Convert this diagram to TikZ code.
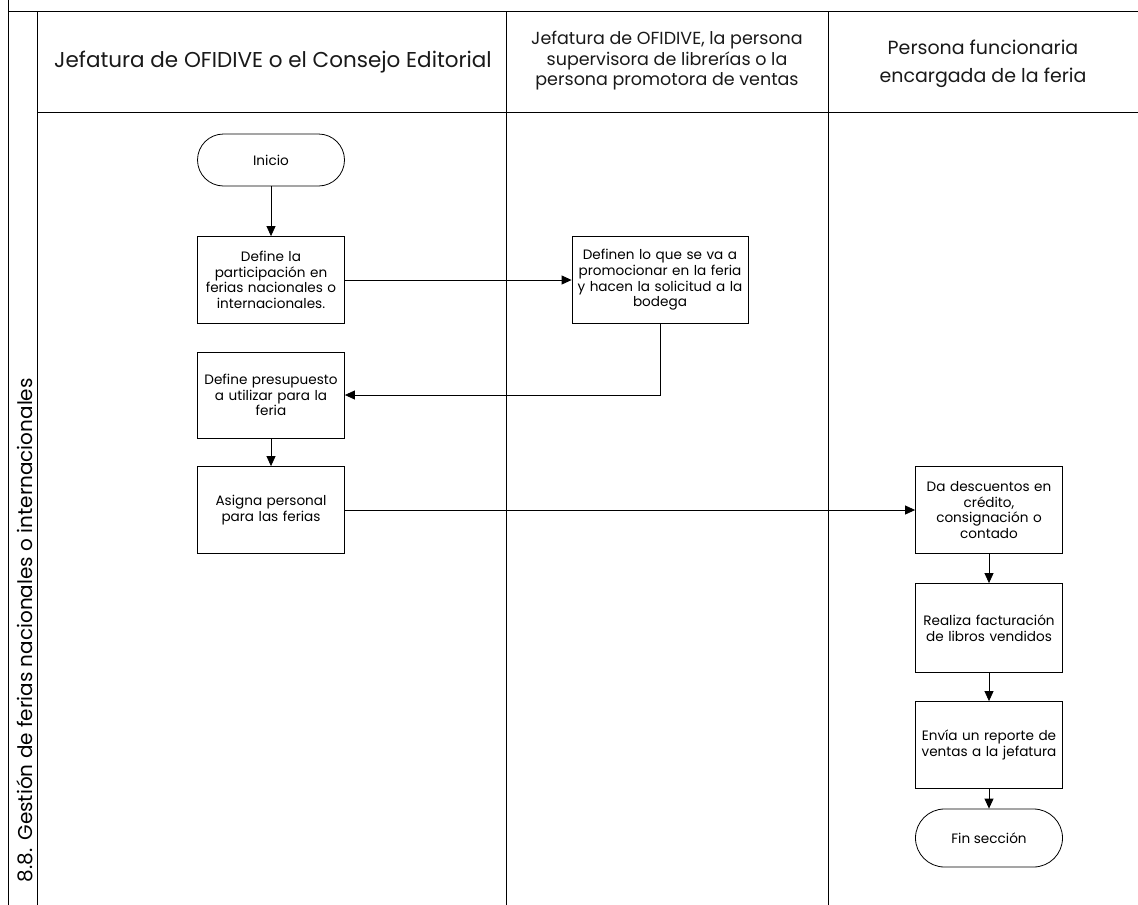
\documentclass[tikz,border=0pt]{standalone}
\usepackage{fontspec}
\setmainfont{Poppins}
\usetikzlibrary{arrows.meta}
\tikzset{
  lane/.style={line width=1pt, draw=black},
  proc/.style={draw, line width=0.8pt, minimum width=147pt, minimum height=87pt,
    text width=145pt, align=center, inner sep=0pt, font=\fontsize{13.6}{15.6}\selectfont},
  term/.style={draw, line width=0.8pt, minimum width=147pt, rounded corners=26pt,
    align=center, inner sep=0pt, font=\fontsize{13.6}{15.6}\selectfont},
  flow/.style={line width=0.8pt, -{Triangle[length=10pt,width=9pt]}},
  hdr/.style={align=center, inner sep=0pt, text=black!90}
}
\begin{document}
\begin{tikzpicture}[x=1pt,y=-1pt]
\useasboundingbox (0,0) rectangle (1138,905);
\clip (0,0) rectangle (1138,905);
% frame
\draw[lane] (8,0) -- (8,905);
\draw[lane] (8,11) -- (1138,11);
\draw[lane] (37,11) -- (37,905);
\draw[lane] (37,112) -- (1138,112);
\draw[lane] (506,11) -- (506,905);
\draw[lane] (828,11) -- (828,905);
% pool title
\node[rotate=90, anchor=base east, inner sep=0pt, font=\fontsize{20}{24}\selectfont] (pool) at (32,378)
  {8.8.\hspace{8pt}Gestión de ferias nacionales o internacionales};
% headers
\node[hdr, font=\fontsize{21.5}{26}\selectfont] (h1) at (273,62) {Jefatura de OFIDIVE o el Consejo Editorial};
\node[hdr, font=\fontsize{17.5}{20.5}\selectfont] (h2) at (667,61) {Jefatura de OFIDIVE, la persona\\supervisora de librerías o la\\persona promotora de ventas};
\node[hdr, font=\fontsize{19}{28}\selectfont] (h3) at (983,64) {Persona funcionaria\\encargada de la feria};
% nodes
\node[term, minimum height=52pt] (ini) at (271,160) {Inicio};
\node[proc] (b1) at (271,280) {Define la\\participación en\\ferias nacionales o\\internacionales.};
\node[proc, minimum width=176pt, text width=176pt] (b2) at (660,280) {Definen lo que se va a\\promocionar en la feria\\y hacen la solicitud a la\\bodega};
\node[proc, minimum height=86pt] (b3) at (271,395) {Define presupuesto\\a utilizar para la\\feria};
\node[proc] (b4) at (271,510) {Asigna personal\\para las ferias};
\node[proc] (b5) at (989,510) {Da descuentos en\\crédito,\\consignación o\\contado};
\node[proc, minimum height=89pt] (b6) at (989,628) {Realiza facturación\\de libros vendidos};
\node[proc] (b7) at (989,745) {Envía un reporte de\\ventas a la jefatura};
\node[term, minimum height=58pt, rounded corners=29pt] (fin) at (989,838) {Fin sección};
% connectors
\draw[flow] (ini) -- (b1);
\draw[flow] (b1) -- (b2);
\draw[flow] (b2.south) |- (b3.east);
\draw[flow] (b3) -- (b4);
\draw[flow] (b4) -- (b5);
\draw[flow] (b5) -- (b6);
\draw[flow] (b6) -- (b7);
\draw[flow] (b7) -- (fin);
\end{tikzpicture}
\end{document}
